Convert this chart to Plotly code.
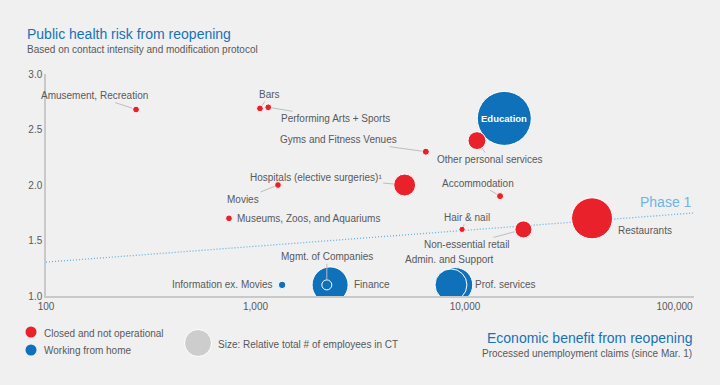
import numpy as np
import plotly.graph_objects as go

# ---------------- data ----------------
sectors = ["Prof. services", "Admin. and Support", "Finance", "Mgmt. of Companies",
           "Information ex. Movies", "Education",
           "Amusement, Recreation", "Bars", "Performing Arts + Sports",
           "Gyms and Fitness Venues", "Other personal services",
           "Hospitals (elective surgeries)\u00b9", "Movies", "Museums, Zoos, and Aquariums",
           "Accommodation", "Hair & nail", "Non-essential retail", "Restaurants"]
status = ["wfh", "wfh", "wfh", "wfh", "wfh", "wfh",
          "closed", "closed", "closed", "closed", "closed", "closed",
          "closed", "closed", "closed", "closed", "closed", "closed"]
claims = [9000, 8570, 2270, 2190, 1340, 15400,
          269, 1050, 1150, 6500, 11400, 5150, 1280, 747, 14700, 9680, 19000, 40400]
risk = [1.10, 1.10, 1.10, 1.10, 1.10, 2.60,
        2.68, 2.69, 2.70, 2.30, 2.40, 2.00, 2.00, 1.70, 1.90, 1.60, 1.60, 1.70]
employees = [60, 51, 65, 5, 2.8, 146,
             2.3, 2.3, 2.3, 2.5, 16, 24, 2.3, 2.3, 2.5, 2.0, 14.5, 84]

phase1_x = [100, 10 ** 5.093]
phase1_y = [1.305, 1.748]

xtick_vals = [100, 1000, 10000, 100000]
xtick_text = ["100", "1,000", "10,000", "100,000"]
ytick_vals = [1.0, 1.5, 2.0, 2.5, 3.0]

# ---------------- styles ----------------
RED = "#E8212A"
BLUE = "#0E71BA"
GRAY_TXT = "#58595B"
TITLE_BLUE = "#1672BA"
FONT = "Liberation Sans, Arial, sans-serif"
BG = "#F0F0F0"

sizeref = 2 * max(employees) / 54 ** 2

fig = go.Figure()

fig.add_trace(go.Scatter(x=phase1_x, y=phase1_y, mode="lines",
                         line=dict(color="#5FB0E4", width=1.3, dash="1px,2px"),
                         hoverinfo="skip", showlegend=False))

for st, col in [("wfh", BLUE), ("closed", RED)]:
    idx = [i for i, s in enumerate(status) if s == st]
    fig.add_trace(go.Scatter(
        x=[claims[i] for i in idx], y=[risk[i] for i in idx],
        text=[sectors[i] for i in idx], mode="markers",
        marker=dict(size=[employees[i] for i in idx], sizemode="area", sizeref=sizeref,
                    color=col, opacity=1, line=dict(color="white", width=1)),
        showlegend=False, hovertemplate="%{text}<extra></extra>"))

# label placement (pixel offsets)
label_arrow = {
    "Amusement, Recreation": (-42, -14, 4),
    "Bars": (10, -14, 4),
    "Performing Arts + Sports": (67, 11, 4),
    "Gyms and Fitness Venues": (-87, -12, 4),
    "Other personal services": (13, 19, 9),
    "Hospitals (elective surgeries)\u00b9": (-89, -8, 11),
    "Movies": (-35, 14, 4),
    "Accommodation": (-22, -13, 4),
    "Hair & nail": (5, -12, 3),
    "Non-essential retail": (-56, 15, 9),
    "Mgmt. of Companies": (0, -28, 5),
}
label_plain = {
    "Museums, Zoos, and Aquariums": ("left", 6, 0),
    "Restaurants": ("left", 24, -12),
    "Admin. and Support": ("center", -1, 25),
    "Prof. services": ("left", 18, 0),
    "Finance": ("left", 22, 0),
    "Information ex. Movies": ("right", -7, 0),
}

annotations = []
for i, name in enumerate(sectors):
    lx, ly = np.log10(claims[i]), risk[i]
    if name in label_arrow:
        ax, ay, so = label_arrow[name]
        annotations.append(dict(x=lx, y=ly, xref="x", yref="y", text=name,
                                showarrow=True, arrowhead=0, arrowwidth=1,
                                arrowcolor="#BDBDBD", ax=ax, ay=ay, standoff=so,
                                font=dict(family=FONT, size=10, color=GRAY_TXT)))
    elif name in label_plain:
        anc, xs, ys = label_plain[name]
        annotations.append(dict(x=lx, y=ly, xref="x", yref="y", text=name,
                                showarrow=False, xanchor=anc, yanchor="middle",
                                xshift=xs, yshift=ys,
                                font=dict(family=FONT, size=10, color=GRAY_TXT)))
    elif name == "Education":
        annotations.append(dict(x=lx, y=ly, xref="x", yref="y", text="<b>Education</b>",
                                showarrow=False,
                                font=dict(family=FONT, size=9.5, color="white")))

# titles
annotations += [
    dict(x=-0.0324, y=1.180, xref="paper", yref="paper", xanchor="left", yanchor="middle",
         text="Public health risk from reopening", showarrow=False,
         font=dict(family=FONT, size=14, color=TITLE_BLUE)),
    dict(x=-0.0324, y=1.1126, xref="paper", yref="paper", xanchor="left", yanchor="middle",
         text="Based on contact intensity and modification protocol", showarrow=False,
         font=dict(family=FONT, size=10, color=GRAY_TXT)),
    dict(x=1.0, y=-0.189, xref="paper", yref="paper", xanchor="right", yanchor="middle",
         text="Economic benefit from reopening", showarrow=False,
         font=dict(family=FONT, size=14, color=TITLE_BLUE)),
    dict(x=1.0, y=-0.261, xref="paper", yref="paper", xanchor="right", yanchor="middle",
         text="Processed unemployment claims (since Mar. 1)", showarrow=False,
         font=dict(family=FONT, size=10, color=GRAY_TXT)),
    dict(x=1.0, y=1.847, xref="paper", yref="y", xanchor="right", yanchor="middle",
         text="Phase 1", showarrow=False,
         font=dict(family=FONT, size=14, color="#6DB5E4")),
    dict(x=-0.00617, y=-0.1667, xref="paper", yref="paper", xanchor="left", yanchor="middle",
         text="Closed and not operational", showarrow=False,
         font=dict(family=FONT, size=10, color=GRAY_TXT)),
    dict(x=-0.00617, y=-0.2477, xref="paper", yref="paper", xanchor="left", yanchor="middle",
         text="Working from home", showarrow=False,
         font=dict(family=FONT, size=10, color=GRAY_TXT)),
    dict(x=0.2623, y=-0.2207, xref="paper", yref="paper", xanchor="left", yanchor="middle",
         text="Size: Relative total # of employees in CT", showarrow=False,
         font=dict(family=FONT, size=10, color=GRAY_TXT)),
]

def dot(xp, yp, r, fill, line="rgba(0,0,0,0)", lw=0):
    return dict(type="circle", xref="paper", yref="paper", xsizemode="pixel",
                ysizemode="pixel", xanchor=xp, yanchor=yp, x0=-r, x1=r, y0=-r, y1=r,
                fillcolor=fill, line=dict(color=line, width=lw), layer="above")

shapes = [
    dot(-0.02315, -0.1622, 5.5, RED),
    dot(-0.02315, -0.2432, 5.5, BLUE),
    dot(0.2346, -0.2117, 13.5, "#CDCDCE", "white", 1),
]

fig.update_layout(
    width=720, height=385,
    margin=dict(l=46, r=26, t=74, b=89),
    paper_bgcolor=BG, plot_bgcolor=BG,
    annotations=annotations, shapes=shapes,
    font=dict(family=FONT, color=GRAY_TXT),
    xaxis=dict(type="log", range=[2, 5.093], tickvals=xtick_vals, ticktext=xtick_text,
               showgrid=False, zeroline=False, showline=True, linecolor="#C9C9C9",
               linewidth=1.5, ticks="", tickfont=dict(family=FONT, size=10, color=GRAY_TXT)),
    yaxis=dict(range=[1, 3], tickvals=ytick_vals, tickformat=".1f",
               showgrid=False, zeroline=False, showline=True, linecolor="#C9C9C9",
               linewidth=1.5, ticks="", tickfont=dict(family=FONT, size=10, color=GRAY_TXT)),
    hovermode="closest",
)

fig.write_html("out.html", config={"displayModeBar": False},
               post_script="document.body.style.margin='0';"
                           "document.body.style.overflow='hidden';"
                           "document.body.style.background='#F0F0F0';")
